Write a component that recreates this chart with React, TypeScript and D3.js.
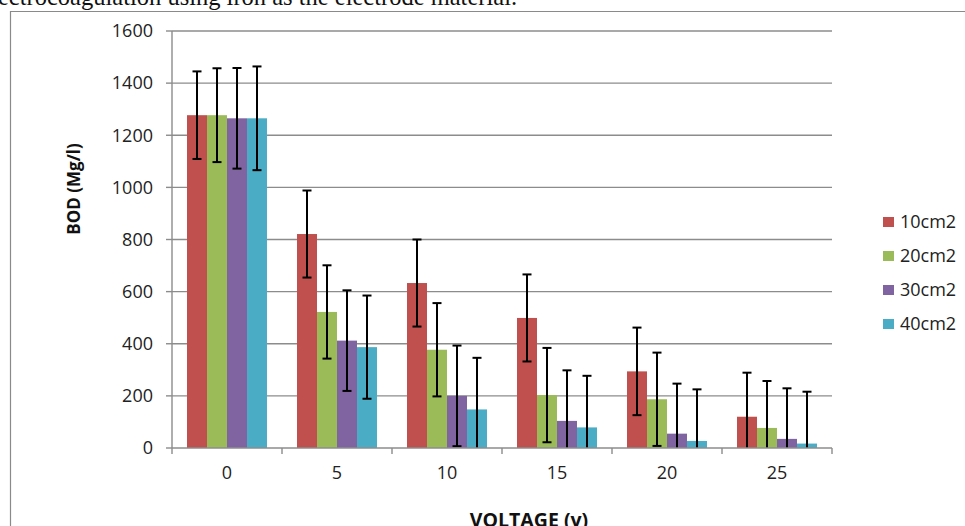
import React from 'react';
import * as d3 from 'd3';

// BOD removal vs voltage for four electrode areas
const voltages = ['0', '5', '10', '15', '20', '25'];
const seriesNames = ['10cm2', '20cm2', '30cm2', '40cm2'];
const colors = ['#C0504D', '#9BBB59', '#8064A2', '#4BACC6'];

const bod10 = [1277, 821, 633, 499, 294, 120];
const bod20 = [1277, 522, 377, 203, 187, 77];
const bod30 = [1265, 412, 200, 104, 55, 35];
const bod40 = [1265, 387, 148, 79, 27, 17];

const err10 = [168, 167, 167, 167, 168, 169];
const err20 = [180, 179, 179, 181, 179, 180];
const err30 = [193, 193, 193, 194, 192, 194];
const err40 = [199, 198, 198, 198, 198, 199];

const yTicks = [0, 200, 400, 600, 800, 1000, 1200, 1400, 1600];

const values = [bod10, bod20, bod30, bod40];
const errors = [err10, err20, err30, err40];

export default function App() {
  const W = 965;
  const H = 526;
  const plot = { left: 172, right: 832, top: 31, bottom: 448 };
  const font = '"Open Sans", sans-serif';

  const x = d3.scaleBand<string>()
    .domain(voltages)
    .range([plot.left, plot.right])
    .paddingInner(30 / 110)
    .paddingOuter(15 / 110);

  const inner = d3.scaleBand<string>()
    .domain(seriesNames)
    .range([0, x.bandwidth()]);

  const y = d3.scaleLinear()
    .domain([0, 1600])
    .range([plot.bottom, plot.top]);

  const step = (plot.right - plot.left) / voltages.length;
  const boundaries = d3.range(voltages.length + 1).map(i => plot.left + i * step);

  return (
    <div style={{ position: 'absolute', left: 0, top: 0, width: W, height: H, background: '#fff' }}>
      <svg width={W} height={H} style={{ display: 'block' }}>
        <defs>
          <clipPath id="plotClip">
            <rect x={plot.left} y={0} width={plot.right - plot.left} height={plot.bottom} />
          </clipPath>
        </defs>

        {/* caption cut off above the chart */}
        <text x={-2} y={4.5} fontFamily='"Liberation Serif", serif' fontSize={24.5} fill="#111">
          ectrocoagulation using iron as the electrode material.
        </text>

        {/* chart frame */}
        <path d={`M10.5,${H} V11.5 H${W}`} fill="none" stroke="#8a8a8a" strokeWidth={1.2} />

        {/* grid lines */}
        {yTicks.filter(t => t > 0).map(t => (
          <line key={t} x1={plot.left} x2={plot.right} y1={y(t)} y2={y(t)} stroke="#8c8c8c" strokeWidth={1.4} />
        ))}

        {/* bars */}
        {seriesNames.map((s, si) => (
          <g key={s} fill={colors[si]}>
            {voltages.map((v, vi) => (
              <rect
                key={v}
                x={(x(v) as number) + (inner(s) as number)}
                y={y(values[si][vi])}
                width={inner.bandwidth()}
                height={plot.bottom - y(values[si][vi])}
              />
            ))}
          </g>
        ))}

        {/* error bars */}
        <g clipPath="url(#plotClip)" stroke="#000" strokeWidth={2}>
          {seriesNames.map((s, si) => voltages.map((v, vi) => {
            const cx = (x(v) as number) + (inner(s) as number) + inner.bandwidth() / 2;
            const hi = y(values[si][vi] + errors[si][vi]);
            const lo = y(values[si][vi] - errors[si][vi]);
            return (
              <g key={s + v}>
                <line x1={cx} x2={cx} y1={hi} y2={lo} />
                <line x1={cx - 4.5} x2={cx + 4.5} y1={hi} y2={hi} />
                <line x1={cx - 4.5} x2={cx + 4.5} y1={lo} y2={lo} />
              </g>
            );
          }))}
        </g>

        {/* y axis */}
        <line x1={plot.left} x2={plot.left} y1={plot.top} y2={plot.bottom} stroke="#8c8c8c" strokeWidth={1.4} />
        {yTicks.map(t => (
          <g key={t}>
            <line x1={plot.left - 6} x2={plot.left} y1={y(t)} y2={y(t)} stroke="#8c8c8c" strokeWidth={1.4} />
            <text x={153} y={y(t)} dy="0.35em" textAnchor="end" fontFamily={font} fontSize={18} fill="#222">
              {t}
            </text>
          </g>
        ))}

        {/* x axis */}
        <line x1={plot.left} x2={plot.right} y1={plot.bottom} y2={plot.bottom} stroke="#8c8c8c" strokeWidth={1.4} />
        {boundaries.map((b, i) => (
          <line key={i} x1={b} x2={b} y1={plot.bottom} y2={plot.bottom + 6} stroke="#8c8c8c" strokeWidth={1.4} />
        ))}
        {voltages.map(v => (
          <text key={v} x={(x(v) as number) + x.bandwidth() / 2} y={479} textAnchor="middle" fontFamily={font} fontSize={18} fill="#222">
            {v}
          </text>
        ))}

        {/* axis titles */}
        <text
          transform="translate(80,189) rotate(-90)"
          textAnchor="middle"
          fontFamily={font}
          fontSize={17}
          fontWeight="bold"
          fill="#111"
        >
          BOD (Mg/l)
        </text>
        <text x={529} y={527} textAnchor="middle" fontFamily={font} fontSize={19.5} fontWeight="bold" fill="#111">
          VOLTAGE (v)
        </text>

        {/* legend */}
        {seriesNames.map((s, i) => (
          <g key={s} transform={`translate(883,${217 + i * 34})`}>
            <rect width={11} height={10} fill={colors[i]} />
            <text x={17} y={5} dy="0.36em" fontFamily={font} fontSize={18} fill="#222">{s}</text>
          </g>
        ))}
      </svg>
    </div>
  );
}
